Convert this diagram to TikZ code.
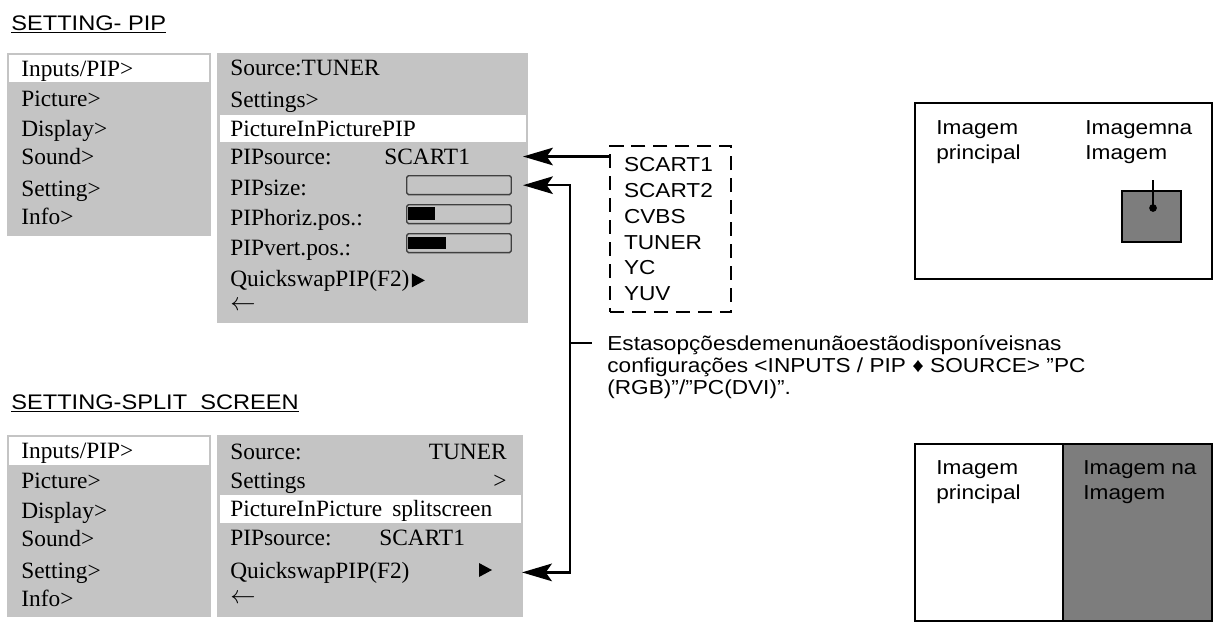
\documentclass[tikz,border=0pt]{standalone}
\usepackage{fontspec}
\setmainfont{Liberation Serif}
\newfontfamily\labelfont[FakeStretch=1.12]{Liberation Sans}
\usetikzlibrary{
    arrows.meta,
    positioning,
    calc
}
\definecolor{menugray}{gray}{0.77}
\definecolor{pipgray}{gray}{0.49}
\tikzset{
    % --- Menu panel (grey on-screen menu) ---
    panel/.style = {
        fill=menugray
    },
    % --- Selected menu row ---
    hilite/.style = {
        fill=white
    },
    % --- Menu entry text ---
    entry/.style = {
        anchor=base west, inner sep=0pt,
        font=\fontsize{13.3}{16}\selectfont
    },
    % --- Right aligned menu value ---
    value/.style = {
        entry, anchor=base east
    },
    % --- Back arrow at the end of a sub menu ---
    back/.style = {
        anchor=west, inner sep=0pt,
        font=\fontsize{13.3}{16}\selectfont
    },
    % --- Sans label text (anchored on its last line) ---
    caption/.style = {
        inner sep=0pt, align=left, anchor=base west,
        font=\labelfont\fontsize{11.5}{14.2}\selectfont
    },
    % --- Underlined heading ---
    heading/.style = {
        caption, font=\labelfont\fontsize{12}{14}\selectfont
    },
    % --- Slider bar ---
    slider/.style = {
        rectangle, draw=black!75, line width=0.8pt,
        rounded corners=1pt, inner sep=0pt,
        minimum width=59.5pt, minimum height=10.8pt,
        anchor=north west
    },
    % --- Dashed list of sources ---
    choice box/.style = {
        caption, draw, dashed, line width=1.1pt,
        dash pattern=on 8pt off 4.5pt,
        anchor=north west, text width=53pt,
        inner xsep=8pt, minimum height=94.7pt,
        font=\labelfont\fontsize{11.5}{14.7}\selectfont
    },
    % --- Connection line ---
    link/.style = {
        line width=1.4pt
    },
    % --- TV screen outline ---
    screen/.style = {
        draw, line width=1.2pt
    }
}

\begin{document}
\begin{tikzpicture}[
    x=0.02cm, y=-0.02cm,
    >={Stealth[length=17pt,width=10pt,inset=3.5pt]}
]
\useasboundingbox (0,0) rectangle (1220,623);

% ---------------------------------------------------------
% Headings
% ---------------------------------------------------------
\node[heading] (titlePIP) at (11,30) {\underline{SETTING- PIP}};
\node[heading] (titleSplit) at (11,409) {\underline{SETTING-SPLIT\ \ SCREEN}};

% ---------------------------------------------------------
% Menu panels
% ---------------------------------------------------------
\fill[panel] (7,53) rectangle (211,236);
\fill[panel] (217,53) rectangle (528,323);
\fill[panel] (7,435) rectangle (211,617);
\fill[panel] (217,435) rectangle (523,617);
\coordinate (R1se) at (528,323);
\coordinate (R2se) at (523,617);

\fill[hilite] (9,55) rectangle (209,82);
\fill[hilite] (220,115) rectangle (526,142);
\fill[hilite] (9,437) rectangle (209,465);
\fill[hilite] (220,495) rectangle (521,523);

% main menu (same in both panels)
\foreach \p/\dy in {A/0, B/382} {
    \foreach \i/\txt/\y in {1/{Inputs/PIP>}/76, 2/{Picture>}/106,
                            3/{Display>}/136, 4/{Sound>}/164,
                            5/{Setting>}/196, 6/{Info>}/224}
        \node[entry] (main\p\i) at (21,\y+\dy) {\txt};
}

% PIP sub menu
\node[entry] (src1) at (230,75) {Source:TUNER};
\node[entry] (set1) at (230,107) {Settings>};
\node[entry] (pip1) at (230,136) {PictureInPicturePIP};
\node[entry] (pipsrc1) at (230,164) {PIPsource:};
\node[entry] (scart1) at (384,164) {SCART1};
\node[entry] (size1) at (230,195) {PIPsize:};
\node[entry] (hpos1) at (230,225) {PIPhoriz.pos.:};
\node[entry] (vpos1) at (230,255) {PIPvert.pos.:};
\node[entry] (qswap1) at (230,286) {QuickswapPIP(F2)};
\node[back] (back1) at (230,306) {$\leftarrow$};
\fill ($(qswap1.east)+(2,-7)$) -- ++(0,14) -- ++(13,-7) -- cycle;

% slider bars
\node[slider] (bar1) at (406,175) {};
\node[slider] (bar2) at (406,204) {};
\node[slider] (bar3) at (406,233) {};
\fill ($(bar2.north west)+(2,3)$) rectangle ++(27,13);
\fill ($(bar3.north west)+(2,4)$) rectangle ++(38,12);

% split screen sub menu
\node[entry] (src2) at (230,459) {Source:};
\node[value] (tuner2) at (507,459) {TUNER};
\node[entry] (set2) at (230,488) {Settings};
\node[value] (more2) at (507,488) {>};
\node[entry] (pip2) at (230,516) {PictureInPicture};
\node[entry] (split2) at (392,516) {splitscreen};
\node[entry] (pipsrc2) at (230,545) {PIPsource:};
\node[entry] (scart2) at (379,545) {SCART1};
\node[entry] (qswap2) at (230,578) {QuickswapPIP(F2)};
\node[back] (back2) at (230,599) {$\leftarrow$};
\fill (479,563) -- (479,577) -- (492,570) -- cycle;

% ---------------------------------------------------------
% Source list and notes
% ---------------------------------------------------------
\node[choice box] (srclist) at (609,145) {SCART1\\SCART2\\CVBS\\TUNER\\YC\\YUV};

\draw[link, ->] (srclist.west |- pipsrc1) -- ($(R1se |- pipsrc1)+(-5,0)$);

\coordinate (busx) at (570,0);
\draw[link, <->] ($(R1se |- bar1)+(-5,0)$) -- (busx |- bar1)
    -- (busx |- qswap2) -- ($(R2se |- qswap2)+(-1,0)$);

\node[caption, font=\labelfont\fontsize{11.5}{12.5}\selectfont]
    (note) at (607,394)
    {Estasopçõesdemenunãoestãodisponíveisnas\\
     configurações <INPUTS / PIP ♦ SOURCE> ”PC\\
     (RGB)”/”PC(DVI)”.};
\coordinate (tick) at (570,343);
\draw[link] (tick) -- ++(22,0);

% ---------------------------------------------------------
% Screens
% ---------------------------------------------------------
\draw[screen] (915,103) rectangle (1212,279);
\node[caption] (scrMainA) at (936,159) {Imagem\\principal};
\node[caption] (scrSubA) at (1085,159) {Imagemna\\Imagem};
\filldraw[fill=pipgray, line width=1.1pt] (1122,191) rectangle (1181,242);
\fill (1153,208) circle (2.2pt);
\draw[line width=0.6pt] (1153,208) -- (1153,180);

\fill[pipgray] (1063,444) rectangle (1212,621);
\draw[screen] (915,444) rectangle (1212,621);
\draw[screen] (1063,444) -- (1063,621);
\node[caption] (scrMainB) at (936,499) {Imagem\\principal};
\node[caption] (scrSubB) at (1083,499) {Imagem na\\Imagem};

\end{tikzpicture}
\end{document}
